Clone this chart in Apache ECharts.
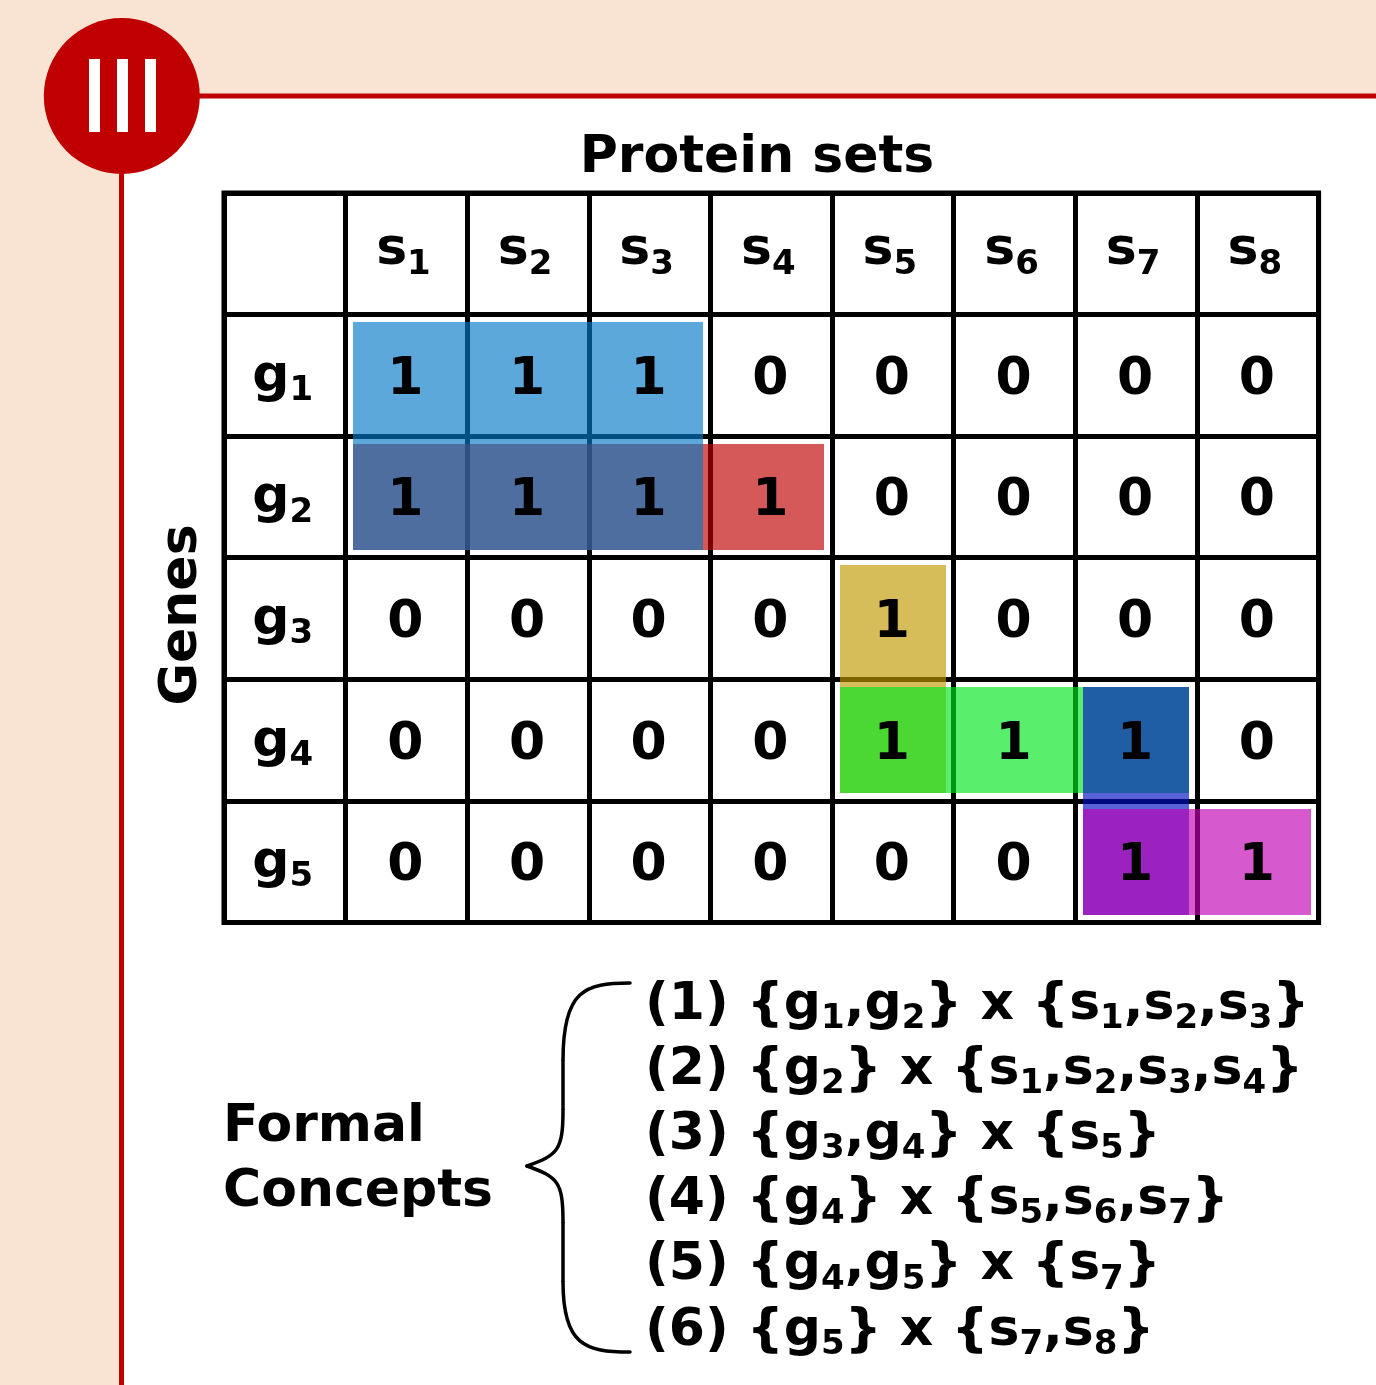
<!DOCTYPE html>
<html>
<head>
<meta charset="utf-8">
<style>html,body{margin:0;padding:0;background:#fff}#chart{width:1376px;height:1385px}</style>
<script src="https://cdn.jsdelivr.net/npm/echarts@6/dist/echarts.min.js"></script>
</head>
<body>
<div id="chart"></div>
<script>
var proteinSets = ['1', '2', '3', '4', '5', '6', '7', '8'];
var genes = ['1', '2', '3', '4', '5'];
var matrix = [
    [1, 1, 1, 0, 0, 0, 0, 0],
    [1, 1, 1, 1, 0, 0, 0, 0],
    [0, 0, 0, 0, 1, 0, 0, 0],
    [0, 0, 0, 0, 1, 1, 1, 0],
    [0, 0, 0, 0, 0, 0, 1, 1]
];
// formal concepts, as indexes into genes and proteinSets
var conceptGenes = [[0, 1], [1], [2, 3], [3], [3, 4], [4]];
var conceptSets = [[0, 1, 2], [0, 1, 2, 3], [4], [4, 5, 6], [6], [6, 7]];
var conceptColors = ['#067ac6', '#c00000', '#c19a00', '#00e61e', '#0010c3', '#c000b4'];
// red goes under blue where they overlap
var drawOrder = [1, 0, 2, 3, 4, 5];

var FONT = 'DejaVu Sans';
var BIG = 52;
var SMALL = 34;
var richStyle = {
    m: {fontFamily: FONT, fontWeight: 'bold', fontSize: BIG, lineHeight: 62, verticalAlign: 'middle', fill: '#000', color: '#000'},
    b: {fontFamily: FONT, fontWeight: 'bold', fontSize: SMALL, lineHeight: 36, verticalAlign: 'bottom', fill: '#000', color: '#000'}
};

function sym(letter, idx) {
    return '{m|' + letter + '}{b|' + idx + '}';
}
function symList(letter, list, names) {
    return list.map(function (i) { return sym(letter, names[i]); }).join('{m|,}');
}

var cellData = [];
for (var r = 0; r < matrix.length; r++) {
    for (var c = 0; c < matrix[r].length; c++) {
        cellData.push([c + 1, r + 1, matrix[r][c]]);
    }
}
var headerData = [];
proteinSets.forEach(function (s, i) {
    headerData.push({value: [i + 1, 0], label: {formatter: sym('s', s), offset: [-3, -3]}});
});
genes.forEach(function (g, i) {
    headerData.push({value: [0, i + 1], label: {formatter: sym('g', g), offset: [-2, 2]}});
});

var rectData = drawOrder.map(function (k) {
    var cols = conceptSets[k];
    var rows = conceptGenes[k];
    return {
        value: [cols[0] + 1, cols[cols.length - 1] + 1, rows[0] + 1, rows[rows.length - 1] + 1],
        itemStyle: {color: conceptColors[k]}
    };
});

function renderConcept(params, api) {
    var a = api.coord([api.value(0), api.value(2)]);
    var b = api.coord([api.value(1), api.value(3)]);
    var size = api.size([1, 1]);
    var inset = 7.75;
    var x0 = Math.round(a[0] - size[0] / 2 + inset);
    var y0 = Math.round(a[1] - size[1] / 2 + inset);
    var x1 = Math.round(b[0] + size[0] / 2 - inset);
    var y1 = Math.round(b[1] + size[1] / 2 - inset);
    return {
        type: 'rect',
        shape: {x: x0, y: y0, width: x1 - x0, height: y1 - y0},
        style: {fill: api.visual('color'), opacity: 0.65}
    };
}

function curve(x1, y1, cx1, cy1, cx2, cy2, x2, y2) {
    return {
        type: 'bezierCurve',
        shape: {x1: x1, y1: y1, cpx1: cx1, cpy1: cy1, cpx2: cx2, cpy2: cy2, x2: x2, y2: y2},
        style: {fill: 'none', stroke: '#000', lineWidth: 3.5, lineCap: 'round'},
        z: 5
    };
}

var graphicEls = [
    {type: 'rect', shape: {x: 0, y: 0, width: 1376, height: 96}, style: {fill: '#f9e4d4'}, z: 0},
    {type: 'rect', shape: {x: 0, y: 96, width: 121, height: 1289}, style: {fill: '#f9e4d4'}, z: 0},
    {type: 'rect', shape: {x: 121, y: 93.5, width: 1255, height: 5}, style: {fill: '#c00000'}, z: 1},
    {type: 'rect', shape: {x: 119, y: 96, width: 5, height: 1289}, style: {fill: '#c00000'}, z: 1},
    {type: 'circle', shape: {cx: 121.8, cy: 96, r: 78}, style: {fill: '#c00000'}, z: 2},
    {type: 'rect', shape: {x: 89, y: 59, width: 11, height: 73}, style: {fill: '#fff'}, z: 3},
    {type: 'rect', shape: {x: 117, y: 59, width: 11, height: 73}, style: {fill: '#fff'}, z: 3},
    {type: 'rect', shape: {x: 145, y: 59, width: 11, height: 73}, style: {fill: '#fff'}, z: 3},
    {type: 'text', x: 757, y: 158, style: {text: 'Protein sets', fill: '#000', font: 'bold 52px "DejaVu Sans"', align: 'center', verticalAlign: 'middle'}, z: 5},
    {type: 'text', x: 182, y: 615, rotation: Math.PI / 2, style: {text: 'Genes', fill: '#000', font: 'bold 52px "DejaVu Sans"', align: 'center', verticalAlign: 'middle'}, z: 5},
    {type: 'text', x: 223, y: 1127, style: {text: 'Formal', fill: '#000', font: 'bold 52px "DejaVu Sans"', align: 'left', verticalAlign: 'middle'}, z: 5},
    {type: 'text', x: 223, y: 1192, style: {text: 'Concepts', fill: '#000', font: 'bold 52px "DejaVu Sans"', align: 'left', verticalAlign: 'middle'}, z: 5},
    curve(630, 983, 585, 983, 563, 990, 563, 1060),
    {type: 'line', shape: {x1: 563, y1: 1060, x2: 563, y2: 1110}, style: {stroke: '#000', lineWidth: 3.5}, z: 5},
    curve(563, 1110, 563, 1150, 558, 1155, 527, 1166),
    curve(527, 1166, 558, 1177, 563, 1182, 563, 1222),
    {type: 'line', shape: {x1: 563, y1: 1222, x2: 563, y2: 1282}, style: {stroke: '#000', lineWidth: 3.5}, z: 5},
    curve(563, 1282, 563, 1345, 585, 1352, 630, 1352)
];

conceptGenes.forEach(function (g, i) {
    var line = '(' + (i + 1) + ') {' + symList('g', g, genes) + '} x {' + symList('s', conceptSets[i], proteinSets) + '}';
    graphicEls.push({
        type: 'text',
        x: 645,
        y: 1005 + i * 65.2,
        style: {text: line, rich: richStyle, align: 'left', verticalAlign: 'middle', fill: '#000', lineHeight: 62, font: 'bold 52px "DejaVu Sans"'},
        z: 5
    });
});

var chart = echarts.init(document.getElementById('chart'));
chart.setOption({
    animation: false,
    backgroundColor: '#fff',
    grid: {left: 224, top: 193, width: 1094.6, height: 729.4, show: true, borderColor: '#000', borderWidth: 5, backgroundColor: 'transparent'},
    xAxis: {
        type: 'category',
        data: [''].concat(proteinSets),
        axisLine: {show: false},
        axisTick: {show: false},
        axisLabel: {show: false},
        splitLine: {show: true, interval: 0, lineStyle: {color: '#000', width: 5}}
    },
    yAxis: {
        type: 'category',
        inverse: true,
        data: [''].concat(genes),
        axisLine: {show: false},
        axisTick: {show: false},
        axisLabel: {show: false},
        splitLine: {show: true, interval: 0, lineStyle: {color: '#000', width: 5}}
    },
    graphic: {elements: graphicEls},
    series: [
        {
            type: 'custom',
            silent: true,
            clip: false,
            z: 3,
            encode: {x: [0, 1], y: [2, 3]},
            renderItem: renderConcept,
            data: rectData
        },
        {
            type: 'scatter',
            silent: true,
            z: 4,
            symbolSize: 1,
            itemStyle: {color: 'transparent', opacity: 1},
            label: {
                show: true,
                position: 'inside',
                offset: [-1, 5],
                formatter: function (p) { return p.value[2]; },
                fontFamily: FONT,
                fontWeight: 'bold',
                fontSize: BIG,
                color: '#000'
            },
            data: cellData
        },
        {
            type: 'scatter',
            silent: true,
            z: 4,
            symbolSize: 1,
            itemStyle: {color: 'transparent', opacity: 1},
            label: {show: true, position: 'inside', rich: richStyle},
            data: headerData
        }
    ]
});
</script>
</body>
</html>
